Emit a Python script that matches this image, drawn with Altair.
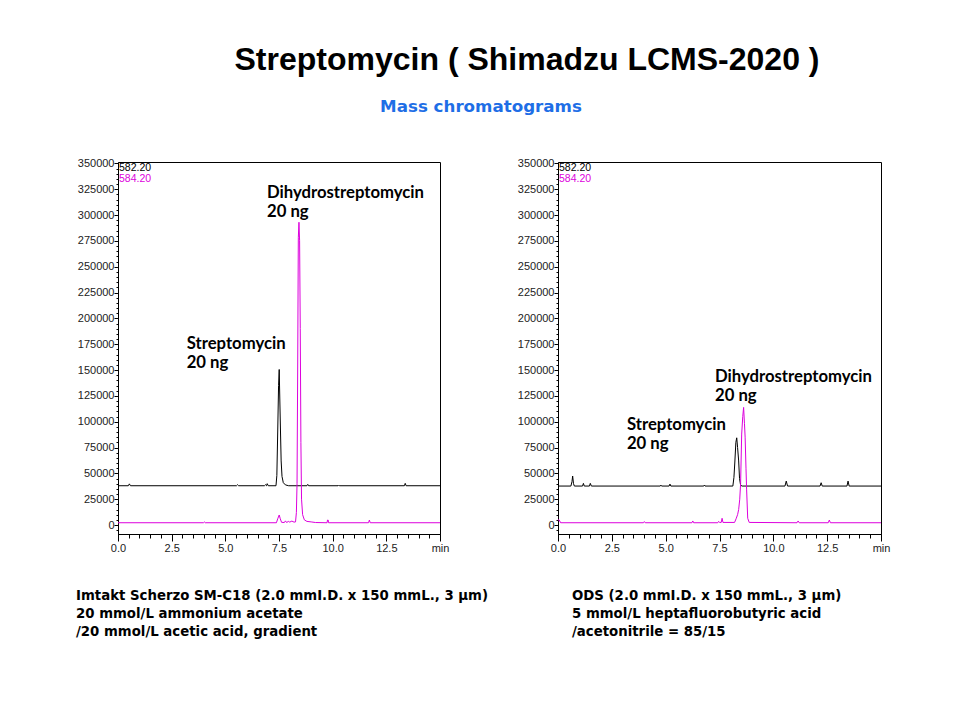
import altair as alt
import pandas as pd

# ---------------- data ----------------
SERIES = ["582.20", "584.20"]
COLORS = ["#000000", "#dd00dd"]

# Left panel: Imtakt Scherzo SM-C18
L_BLACK_T = [0.0, 0.48, 0.53, 0.58, 5.52, 5.57, 5.62, 6.82, 6.87, 6.92, 6.95, 7.0,
             7.36, 7.40, 7.44, 7.48, 7.51, 7.54, 7.57, 7.60, 7.64, 7.70, 7.80, 7.95,
             8.80, 8.84, 8.88, 10.25, 10.28, 10.31, 13.34, 13.38, 13.42, 15.0]
L_BLACK_I = [38000, 38000, 39800, 38000, 38000, 39000, 38000, 38000, 39000, 38000, 40000, 38000,
             38000, 48000, 90000, 135000, 150500, 120000, 90000, 62000, 47000, 41000, 38800, 38000,
             38000, 39300, 38000, 38000, 38700, 38000, 38000, 40300, 38000, 38000]
L_PINK_T = [0.0, 3.98, 4.02, 4.06, 7.38, 7.44, 7.51, 7.56, 7.62, 7.75, 7.80, 7.85, 7.95, 8.0,
            8.1, 8.2, 8.27, 8.31, 8.34, 8.37, 8.40, 8.43, 8.46, 8.49, 8.52, 8.55, 8.60, 8.68,
            8.80, 9.0, 9.2, 9.74, 9.76, 9.79, 9.81, 11.67, 11.71, 11.75, 15.0]
L_PINK_I = [2200, 2200, 3000, 2200, 2200, 6000, 9700, 6000, 2600, 2400, 4000, 2500, 3500, 2800,
            3800, 2800, 3000, 12000, 40000, 150000, 278000, 293000, 275000, 190000, 80000, 25000, 10000, 5000,
            3500, 3000, 2400, 2200, 4800, 4800, 2200, 2200, 4800, 2200, 2200]

# Right panel: ODS
R_BLACK_T = [0.0, 0.60, 0.65, 0.68, 0.72, 0.76, 1.14, 1.18, 1.22, 1.46, 1.50, 1.55,
             4.75, 4.78, 4.81, 5.16, 5.20, 5.24, 6.77, 6.80, 6.83,
             8.12, 8.17, 8.21, 8.26, 8.30, 8.34, 8.39, 8.43, 8.48, 8.55,
             10.54, 10.60, 10.66, 12.17, 12.22, 12.27, 13.42, 13.47, 13.52, 15.0]
R_BLACK_I = [37700, 37700, 42000, 47400, 40000, 37700, 37700, 40300, 37700, 37700, 40300, 37700,
             37700, 38600, 37700, 37700, 39600, 37700, 37700, 38700, 37700,
             37700, 46000, 60000, 80000, 84400, 75000, 62000, 45000, 38500, 37700,
             37700, 42500, 37700, 37700, 40900, 37700, 37700, 42500, 37700, 37700]
R_PINK_T = [0.0, 0.06, 0.12, 3.97, 4.01, 4.05, 6.22, 6.26, 6.30, 7.42, 7.46, 7.50, 7.58, 7.62, 7.66,
            8.20, 8.27, 8.34, 8.39, 8.44, 8.48, 8.53, 8.58, 8.62, 8.66, 8.69, 8.73, 8.76, 8.81, 8.88,
            11.10, 11.15, 11.20, 12.55, 12.60, 12.65, 15.0]
R_PINK_I = [5000, 4800, 2200, 2200, 3300, 2200, 2200, 3900, 2200, 2200, 3500, 2500, 2500, 6500, 2500,
            2500, 6000, 10000, 15000, 25000, 40000, 88000, 105000, 113800, 98000, 85000, 55000, 34000, 6500, 2500,
            2200, 3900, 2200, 2200, 4800, 2200, 2200]

# annotations: (time, intensity of text top, text)
L_ANN_T = [6.94, 3.2]
L_ANN_I = [329000, 183000]
R_ANN_T = [7.29, 3.2]
R_ANN_I = [151000, 104500]
ANN_TEXT = ["Dihydrostreptomycin\n20 ng", "Streptomycin\n20 ng"]

TITLE = "Streptomycin ( Shimadzu LCMS-2020 )"
SUBTITLE = "Mass chromatograms"
L_NOTE = "Imtakt Scherzo SM-C18 (2.0 mmI.D. x 150 mmL., 3 μm)\n20 mmol/L ammonium acetate\n/20 mmol/L acetic acid, gradient"
R_NOTE = "ODS (2.0 mmI.D. x 150 mmL., 3 μm)\n5 mmol/L heptafluorobutyric acid\n/acetonitrile = 85/15"

X_MAJOR = [0, 2.5, 5, 7.5, 10, 12.5, 15]
X_MINOR = [i * 0.5 for i in range(31)]
Y_MAJOR = [i * 25000 for i in range(15)]
Y_MINOR = [i * 5000 for i in range(-1, 71)]

W, H = 322, 372
YDOM = [-8700, 351300]
XDOM = [0, 15]

AXIS_FONT = "Liberation Sans"


def traces(bt, bi, pt, pi):
    rows = []
    for t, v in zip(bt, bi):
        rows.append({"t": t, "i": v, "s": SERIES[0]})
    for t, v in zip(pt, pi):
        rows.append({"t": t, "i": v, "s": SERIES[1]})
    return pd.DataFrame(rows)


def panel(df, ann_t, ann_i, note, note_x, extra=None, width=W):
    xs = alt.Scale(domain=XDOM, nice=False, zero=False)
    ys = alt.Scale(domain=YDOM, nice=False, zero=False)
    lines = alt.Chart(df).mark_line(strokeWidth=1, clip=True).encode(
        x=alt.X("t:Q", scale=xs, title=None,
                axis=alt.Axis(orient="bottom", values=X_MAJOR, tickSize=7, labelPadding=1,
                              labelExpr="datum.value == 15 ? 'min' : format(datum.value, '.1f')",
                              grid=False, labelFont=AXIS_FONT, labelFontSize=11, labelColor="#222",
                              tickColor="black", domainColor="black", labelFlush=False)),
        y=alt.Y("i:Q", scale=ys, title=None,
                axis=alt.Axis(orient="left", values=Y_MAJOR, tickSize=4, labelPadding=0, format="d",
                              grid=False, labelFont=AXIS_FONT, labelFontSize=11, labelColor="#222",
                              tickColor="black", domainColor="black")),
        color=alt.Color("s:N", scale=alt.Scale(domain=SERIES, range=COLORS), legend=None),
        detail="s:N",
    )
    ann_df = pd.DataFrame({"t": ann_t, "i": ann_i, "txt": ANN_TEXT})
    ann = alt.Chart(ann_df).mark_text(align="left", baseline="top", lineBreak="\n", lineHeight=19,
                                      font="Lato", fontWeight="bold", fontSize=16.7, color="black").encode(
        x=alt.X("t:Q", scale=xs, title=None,
                axis=alt.Axis(orient="bottom", values=X_MINOR, tickSize=4, labels=False, domain=False,
                              grid=False, tickColor="black")),
        y=alt.Y("i:Q", scale=ys, title=None,
                axis=alt.Axis(orient="left", values=Y_MINOR, tickSize=2, labels=False, domain=False,
                              grid=False, tickColor="black")),
        text="txt:N",
    )
    leg1 = alt.Chart(pd.DataFrame({"s": [SERIES[0]]})).mark_text(
        align="left", baseline="middle", font=AXIS_FONT, fontSize=10.5, color=COLORS[0]).encode(
        text="s:N", x=alt.value(1), y=alt.value(6))
    leg2 = alt.Chart(pd.DataFrame({"s": [SERIES[1]]})).mark_text(
        align="left", baseline="middle", font=AXIS_FONT, fontSize=10.5, color=COLORS[1]).encode(
        text="s:N", x=alt.value(1), y=alt.value(17))
    nt = alt.Chart(pd.DataFrame({"n": [note]})).mark_text(
        align="left", baseline="top", lineBreak="\n", lineHeight=18, font="DejaVu Sans",
        fontWeight="bold", fontSize=13.3, color="black").encode(
        text="n:N", x=alt.value(note_x), y=alt.value(427))
    layers = [lines, ann, leg1, leg2, nt]
    if extra:
        layers += extra
    return alt.layer(*layers).resolve_axis(x="independent", y="independent").properties(
        width=width, height=H)


title_mark = alt.Chart(pd.DataFrame({"t": [TITLE]})).mark_text(
    align="center", baseline="middle", font="Liberation Sans", fontWeight="bold", fontSize=32,
    color="black").encode(text="t:N", x=alt.value(409), y=alt.value(-102))
sub_mark = alt.Chart(pd.DataFrame({"t": [SUBTITLE]})).mark_text(
    align="center", baseline="middle", font="DejaVu Sans", fontWeight="bold", fontSize=16.7,
    color="#1e6ee6").encode(text="t:N", x=alt.value(363), y=alt.value(-55))

left = panel(traces(L_BLACK_T, L_BLACK_I, L_PINK_T, L_PINK_I), L_ANN_T, L_ANN_I, L_NOTE, -42,
             extra=[title_mark, sub_mark], width=322)
right = panel(traces(R_BLACK_T, R_BLACK_I, R_PINK_T, R_PINK_I), R_ANN_T, R_ANN_I, R_NOTE, 14,
              width=323)

chart = alt.HConcatChart(hconcat=[left, right], spacing=118, bounds="flush").properties(
    padding={"left": 67, "top": 35, "right": 5, "bottom": 5},
    background="white",
).configure_view(stroke="black", strokeWidth=1)

chart.save("out.html", embed_options={"renderer": "svg", "actions": False})
